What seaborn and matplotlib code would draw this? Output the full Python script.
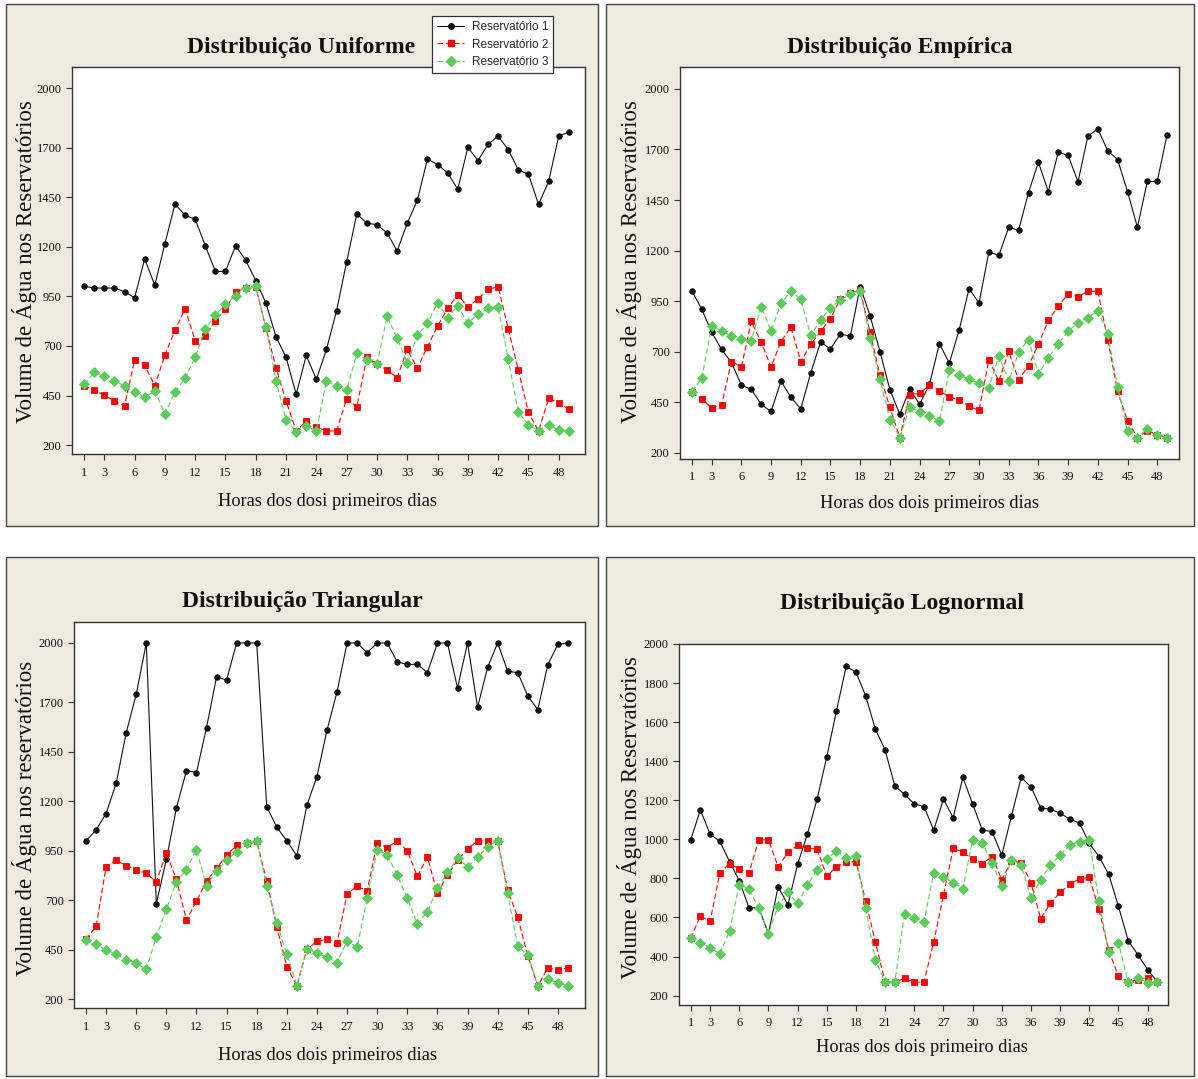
import matplotlib
matplotlib.use("Agg")
import matplotlib.pyplot as plt
from matplotlib.patches import Rectangle
from matplotlib.lines import Line2D
import pandas as pd
import seaborn as sns

horas = list(range(1, 50))
xticks = [1, 3, 6, 9, 12, 15, 18, 21, 24, 27, 30, 33, 36, 39, 42, 45, 48]
yticks_a = [200, 450, 700, 950, 1200, 1450, 1700, 2000]
yticks_b = [200, 400, 600, 800, 1000, 1200, 1400, 1600, 1800, 2000]
series_names = ["Reservatório 1", "Reservatório 2", "Reservatório 3"]

# Distribuição Uniforme
uni_r1 = [1001, 992, 992, 992, 974, 943, 1139, 1006, 1216, 1416,
          1359, 1339, 1206, 1076, 1076, 1206, 1132, 1029, 917, 747,
          642, 456, 652, 531, 683, 878, 1125, 1366, 1319, 1312,
          1270, 1179, 1319, 1435, 1643, 1615, 1573, 1490, 1702, 1635,
          1717, 1758, 1690, 1588, 1566, 1414, 1530, 1759, 1779]
uni_r2 = [499, 478, 451, 422, 398, 629, 602, 499, 654, 780,
          888, 725, 752, 826, 888, 970, 994, 997, 792, 589,
          422, 271, 321, 293, 271, 271, 434, 393, 642, 609,
          578, 540, 683, 587, 696, 800, 890, 959, 896, 937,
          985, 999, 787, 578, 365, 271, 435, 414, 380]
uni_r3 = [506, 567, 548, 525, 498, 469, 441, 474, 358, 467,
          538, 642, 787, 856, 910, 952, 994, 1001, 794, 525,
          326, 267, 297, 271, 525, 496, 476, 663, 629, 607,
          849, 740, 614, 753, 814, 917, 843, 903, 814, 863,
          890, 896, 634, 365, 303, 271, 303, 276, 271]

# Distribuição Empírica
emp_r1 = [1000, 910, 795, 711, 646, 534, 514, 439, 404, 554,
          474, 417, 594, 748, 713, 788, 776, 1022, 877, 700,
          512, 390, 516, 439, 538, 740, 643, 808, 1012, 940,
          1193, 1176, 1315, 1300, 1487, 1637, 1492, 1686, 1671, 1540,
          1767, 1801, 1694, 1650, 1492, 1315, 1542, 1542, 1774]
emp_r2 = [499, 466, 422, 437, 651, 624, 850, 746, 624, 750,
          822, 651, 736, 800, 863, 962, 989, 1005, 795, 584,
          424, 275, 487, 494, 534, 506, 477, 461, 431, 409,
          660, 554, 701, 561, 629, 736, 855, 925, 985, 972,
          999, 999, 760, 504, 357, 275, 307, 290, 275]
emp_r3 = [502, 568, 827, 802, 778, 761, 755, 922, 802, 939,
          999, 959, 780, 857, 917, 957, 985, 1002, 766, 563,
          364, 275, 426, 402, 384, 355, 611, 583, 563, 543,
          521, 678, 554, 696, 760, 589, 669, 738, 802, 843,
          868, 902, 789, 524, 309, 275, 319, 290, 275]

# Distribuição Triangular
tri_r1 = [1000, 1055, 1138, 1291, 1546, 1741, 2000, 682, 906, 1165,
          1355, 1345, 1572, 1828, 1813, 2000, 2000, 2000, 1172, 1069,
          1000, 924, 1180, 1325, 1559, 1753, 2000, 2000, 1951, 2000,
          2000, 1904, 1892, 1892, 1850, 2000, 2000, 1773, 2000, 1675,
          1877, 2000, 1857, 1850, 1732, 1663, 1891, 1993, 2000]
tri_r2 = [503, 567, 869, 902, 874, 855, 835, 793, 938, 805,
          599, 695, 796, 862, 926, 978, 990, 1000, 796, 565,
          363, 267, 453, 492, 503, 483, 732, 771, 746, 991,
          965, 1000, 949, 821, 917, 735, 826, 902, 959, 1000,
          1000, 1000, 751, 614, 419, 267, 358, 347, 358]
tri_r3 = [501, 476, 448, 427, 400, 380, 350, 515, 653, 794,
          853, 956, 771, 848, 902, 944, 991, 1000, 773, 587,
          427, 267, 453, 434, 412, 384, 495, 461, 710, 953,
          929, 826, 709, 579, 641, 761, 840, 912, 869, 916,
          971, 1000, 734, 468, 422, 267, 301, 283, 267]

# Distribuição Lognormal
log_r1 = [997, 1151, 1026, 990, 886, 788, 650, 650, 518, 758,
          663, 873, 1025, 1205, 1422, 1658, 1886, 1856, 1735, 1564,
          1457, 1274, 1230, 1182, 1168, 1047, 1206, 1111, 1317, 1182,
          1047, 1040, 919, 1120, 1317, 1269, 1161, 1154, 1134, 1103,
          1084, 980, 912, 821, 658, 482, 409, 333, 271]
log_r2 = [494, 608, 580, 828, 876, 848, 828, 997, 997, 860,
          933, 969, 954, 950, 812, 860, 883, 886, 686, 473,
          271, 271, 288, 269, 269, 473, 714, 954, 935, 899,
          876, 912, 793, 890, 880, 779, 594, 672, 729, 769,
          798, 805, 643, 432, 299, 269, 281, 292, 269]
log_r3 = [494, 470, 446, 414, 530, 767, 748, 648, 518, 660,
          729, 672, 764, 845, 897, 942, 905, 916, 648, 382,
          269, 269, 620, 599, 579, 828, 807, 779, 748, 997,
          983, 878, 762, 892, 867, 700, 793, 869, 919, 971,
          988, 997, 684, 423, 471, 269, 290, 267, 269]

sns.set_style("ticks")
plt.rcParams["font.family"] = ["Liberation Serif", "DejaVu Serif"]

BEIGE = "#EEEAE0"
FRAME = "#333333"
GREEN = "#5CCB5C"
RED = "#FF0000"

styles = {
    "Reservatório 1": dict(color="#111111", marker="o", markersize=4.0,
                           linestyle="-", linewidth=0.8),
    "Reservatório 2": dict(color=RED, marker="s", markersize=4.8,
                           linestyle=(0, (5, 2.5)), linewidth=0.8),
    "Reservatório 3": dict(color=GREEN, marker="D", markersize=5.0,
                           linestyle=(0, (5, 2.5)), linewidth=0.8),
}

fig = plt.figure(figsize=(11.98, 10.79), dpi=100, facecolor="white")
W, H = 1198.0, 1079.0


def px_rect(x0, y0, x1, y1):
    return [x0 / W, 1 - y1 / H, (x1 - x0) / W, (y1 - y0) / H]


# beige frames behind each chart
for (x0, y0, x1, y1) in [(6, 4, 598, 526), (606, 4, 1194, 526),
                         (6, 557, 598, 1076), (606, 557, 1194, 1076)]:
    r = Rectangle((x0 / W, 1 - y1 / H), (x1 - x0) / W, (y1 - y0) / H,
                  transform=fig.transFigure, facecolor=BEIGE,
                  edgecolor="#444444", linewidth=1.0, zorder=-10)
    fig.patches.append(r)

panels = [
    dict(rect=px_rect(72, 67, 585, 454), xlim=(-0.2, 50.6), ylim=(155, 2107),
         yticks=yticks_a, data=(uni_r1, uni_r2, uni_r3),
         title="Distribuição Uniforme", title_xy=(301, 48),
         ylabel="Volume de Água nos Reservatórios", ylabel_xy=(25, 262),
         xlabel="Horas dos dosi primeiros dias", xlabel_xy=(327, 501)),
    dict(rect=px_rect(680, 67, 1179, 459), xlim=(-0.2, 50.2), ylim=(169, 2108),
         yticks=yticks_a, data=(emp_r1, emp_r2, emp_r3),
         title="Distribuição Empírica", title_xy=(900, 48),
         ylabel="Volume de Água nos Reservatórios", ylabel_xy=(630, 262),
         xlabel="Horas dos dois primeiros dias", xlabel_xy=(929, 503)),
    dict(rect=px_rect(74, 622, 585, 1008), xlim=(-0.2, 50.7), ylim=(155, 2106),
         yticks=yticks_a, data=(tri_r1, tri_r2, tri_r3),
         title="Distribuição Triangular", title_xy=(302, 602),
         ylabel="Volume de Água nos reservatórios", ylabel_xy=(25, 818),
         xlabel="Horas dos dois primeiros dias", xlabel_xy=(327, 1055)),
    dict(rect=px_rect(679, 644, 1168, 1005), xlim=(-0.2, 50.1), ylim=(152, 2000),
         yticks=yticks_b, data=(log_r1, log_r2, log_r3),
         title="Distribuição Lognormal", title_xy=(902, 603),
         ylabel="Volume de Água nos Reservatórios", ylabel_xy=(630, 818),
         xlabel="Horas dos dois primeiro dias", xlabel_xy=(922, 1047)),
]

axes = []
for p in panels:
    ax = fig.add_axes(p["rect"])
    ax.set_facecolor("white")
    for name, vals in zip(series_names, p["data"]):
        df = pd.DataFrame({"hora": horas, "volume": vals})
        st = styles[name]
        sns.lineplot(data=df, x="hora", y="volume", ax=ax,
                     color=st["color"], marker=st["marker"],
                     markersize=st["markersize"], linestyle=st["linestyle"],
                     linewidth=st["linewidth"], markeredgecolor=st["color"],
                     markeredgewidth=0.6, label=name, legend=False)
    ax.set_xlim(*p["xlim"])
    ax.set_ylim(*p["ylim"])
    ax.set_xticks(xticks)
    ax.set_yticks(p["yticks"])
    ax.set_xlabel("")
    ax.set_ylabel("")
    for s in ax.spines.values():
        s.set_color(FRAME)
        s.set_linewidth(1.0)
    ax.tick_params(axis="both", direction="out", length=4, width=0.8,
                   color=FRAME, labelsize=9, labelcolor="#111111", pad=3.5)
    ax.tick_params(axis="x", pad=5)
    ax.grid(False)

    fig.text(p["title_xy"][0] / W, 1 - p["title_xy"][1] / H, p["title"],
             ha="center", va="center", fontsize=17, fontweight="bold",
             color="#111111")
    fig.text(p["ylabel_xy"][0] / W, 1 - p["ylabel_xy"][1] / H, p["ylabel"],
             ha="center", va="center", rotation=90, fontsize=16.5,
             color="#111111")
    fig.text(p["xlabel_xy"][0] / W, 1 - p["xlabel_xy"][1] / H, p["xlabel"],
             ha="center", va="center", fontsize=13.2, color="#111111")
    axes.append(ax)

handles = [Line2D([0], [0], color=styles[n]["color"], marker=styles[n]["marker"],
                  markersize=styles[n]["markersize"], linestyle=styles[n]["linestyle"],
                  linewidth=styles[n]["linewidth"], markeredgecolor=styles[n]["color"])
           for n in series_names]
leg = axes[0].legend(handles, series_names, loc="upper left",
                     bbox_to_anchor=(432 / W, 1 - 16 / H),
                     bbox_transform=fig.transFigure, frameon=True,
                     fancybox=False, framealpha=1.0, edgecolor="#333333",
                     borderaxespad=0, handlelength=2.3, handletextpad=0.6,
                     borderpad=0.45, labelspacing=0.45,
                     prop={"family": ["Liberation Sans Narrow", "Liberation Sans"],
                           "size": 8.5})
leg.get_frame().set_linewidth(0.9)
leg.set_zorder(10)

fig.savefig("out.png", dpi=100, facecolor="white")
